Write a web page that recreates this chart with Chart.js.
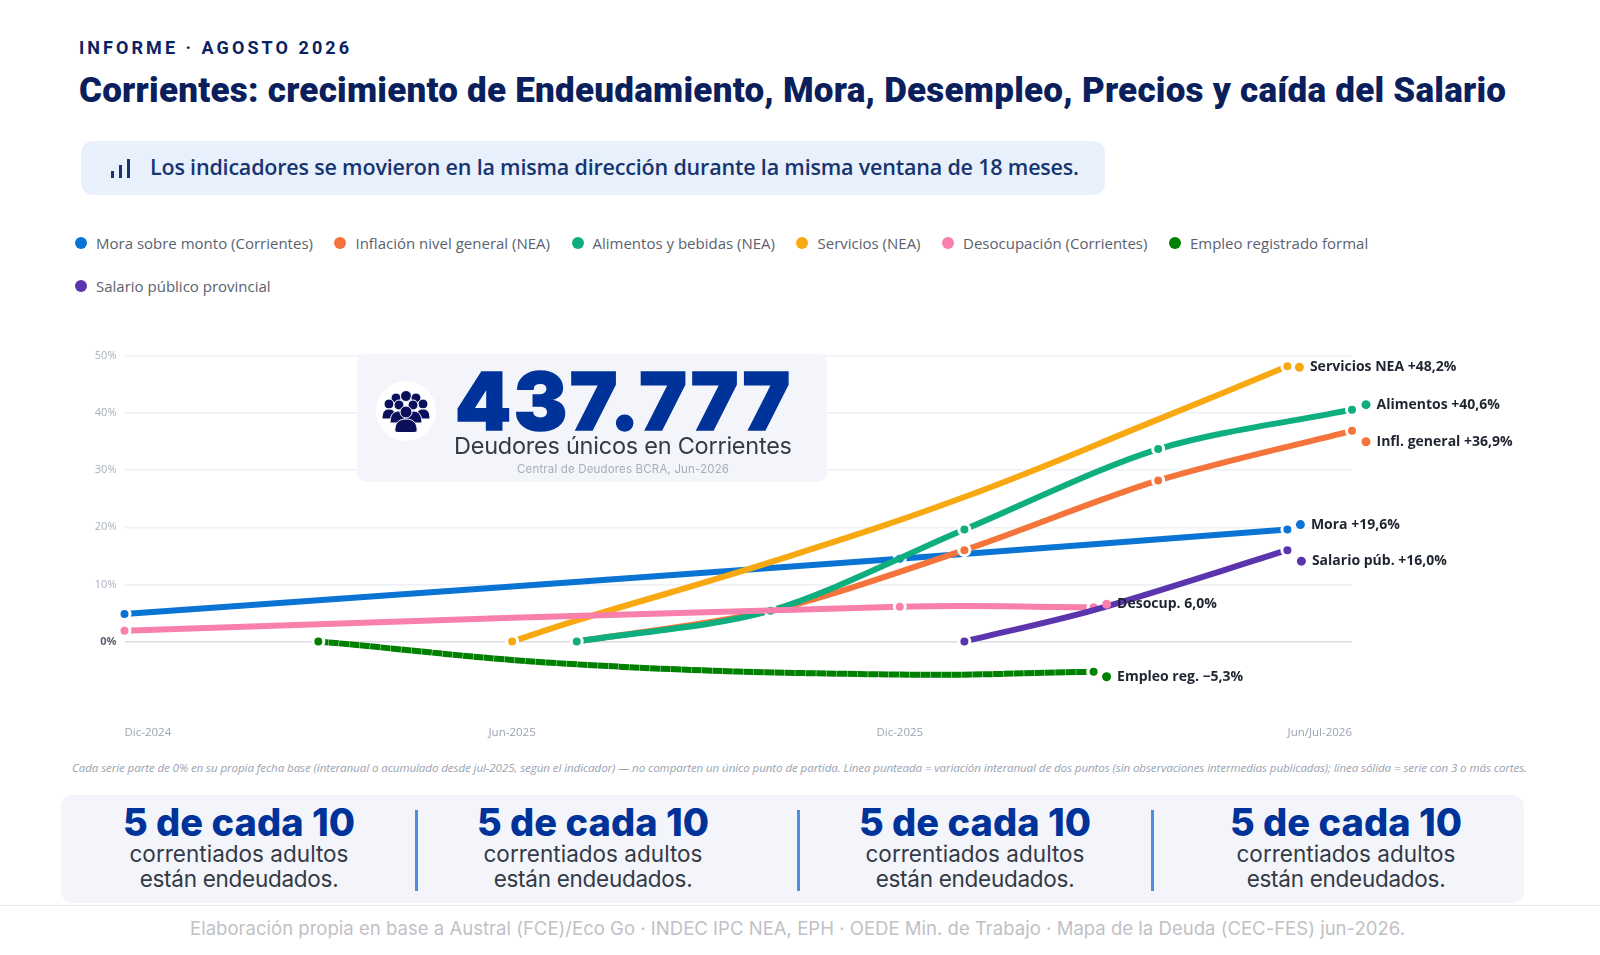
<!DOCTYPE html>
<html lang="es"><head><meta charset="utf-8">
<script src="https://cdn.jsdelivr.net/npm/chart.js@4"></script>
<style>
html,body{margin:0;padding:0;background:#fff;width:1600px;height:955px;overflow:hidden}
.t{position:absolute;white-space:nowrap;line-height:1}
#kicker{left:79px;top:37px;font:700 18px Roboto,sans-serif;color:#0b2263}
#title{left:79px;top:70px;font:900 35px Roboto,sans-serif;color:#0a1f5c}
#banner{position:absolute;left:81px;top:141px;width:1024px;height:54px;background:#e8f0fc;border-radius:12px}
#btxt{left:150px;top:151.5px;font:600 21.5px "Open Sans",sans-serif;color:#17356f}
#legend{position:absolute;left:75px;top:232px;width:1450px;display:flex;flex-wrap:wrap;column-gap:21.5px;row-gap:21px;font:15px/22px "Open Sans",sans-serif;color:#5a6270}
#legend div{display:flex;align-items:center;gap:9px}
#legend i{display:block;width:12px;height:12px;border-radius:50%}
#wrap{position:absolute;left:0;top:340px;width:1600px;height:407px}
#card{position:absolute;left:357px;top:354px;width:470px;height:128px;background:#f3f5fb;border-radius:9px}
#disc{position:absolute;left:376px;top:381px;width:60px;height:60px;border-radius:50%;background:#fff}
#num{left:455px;top:352px;font:900 80px Inter,sans-serif;color:#003399;-webkit-text-stroke:1.5px #003399}
#dlab{left:454px;top:431px;font:400 23.5px Inter,sans-serif;color:#333a46}
#dsrc{left:517px;top:462px;font:400 11.5px Inter,sans-serif;color:#a9adb6}
#note{left:72px;top:760px;font:italic 400 11.6px "Open Sans",sans-serif;color:#9aa3b2}
#strip{position:absolute;left:61px;top:795px;width:1463px;height:108px;background:#f3f5fb;border-radius:12px}
.h{font:800 38px Inter,sans-serif;color:#003399;top:799px;transform:translateX(-50%)}
.s{font:400 22.5px Inter,sans-serif;color:#333a46;transform:translateX(-50%)}
.d{position:absolute;top:810px;width:3px;height:81px;background:#4a90e2}
#rule{position:absolute;left:0;top:905px;width:1600px;height:1px;background:#e6e8ec}
#foot{left:190px;top:917px;font:400 18.5px Inter,sans-serif;color:#bfc1c6}
</style></head><body>
<div class="t" id="kicker" data-w="270">INFORME · AGOSTO 2026</div>
<div class="t" id="title" data-w="1427">Corrientes: crecimiento de Endeudamiento, Mora, Desempleo, Precios y caída del Salario</div>
<div id="banner"></div>
<svg style="position:absolute;left:110px;top:158px" width="22" height="22"><g fill="#17356f"><rect x="1" y="13" width="3" height="7"/><rect x="9" y="7" width="3" height="13"/><rect x="17" y="1" width="3" height="19"/></g></svg>
<div class="t" id="btxt" data-w="929">Los indicadores se movieron en la misma dirección durante la misma ventana de 18 meses.</div>
<div id="legend"></div>
<div id="wrap"><canvas id="c" width="1600" height="407"></canvas></div>
<div id="card"></div><div id="disc"></div>
<svg style="position:absolute;left:381px;top:390px" width="50" height="42" viewBox="0 0 50 42"><g fill="#0a0f5c" stroke="#fff" stroke-width="1">
<circle cx="15" cy="8" r="5"/><circle cx="25" cy="6" r="5.5"/><circle cx="35" cy="8" r="5"/>
<circle cx="8" cy="14" r="5"/><circle cx="42" cy="14" r="5"/>
<path d="M1 29c0-8 3-10 7-10s7 2 7 10z"/><path d="M35 29c0-8 3-10 7-10s7 2 7 10z"/>
<circle cx="18" cy="15" r="5"/><circle cx="32" cy="15" r="5"/>
<path d="M9 33c0-9 4-12 9-12s9 3 9 12z"/><path d="M23 33c0-9 4-12 9-12s9 3 9 12z"/>
<circle cx="25" cy="22" r="6"/><path d="M14 42c-1-9 4-13 11-13s12 4 11 13c-4 1-18 1-22 0z"/></g></svg>
<div class="t" id="num" data-w="335">437.777</div>
<div class="t" id="dlab" data-w="338">Deudores únicos en Corrientes</div>
<div class="t" id="dsrc" data-w="212">Central de Deudores BCRA, Jun-2026</div>
<div class="t" id="note" data-w="1455">Cada serie parte de 0% en su propia fecha base (interanual o acumulado desde jul-2025, según el indicador) — no comparten un único punto de partida. Línea punteada = variación interanual de dos puntos (sin observaciones intermedias publicadas); línea sólida = serie con 3 o más cortes.</div>
<div id="strip"></div>
<div class="d" style="left:415px"></div><div class="d" style="left:797px"></div><div class="d" style="left:1151px"></div>
<div id="stats"></div>
<div id="rule"></div>
<div class="t" id="foot" data-w="1215">Elaboración propia en base a Austral (FCE)/Eco Go · INDEC IPC NEA, EPH · OEDE Min. de Trabajo · Mapa de la Deuda (CEC-FES) jun-2026.</div>
<script>
// ---- data ----
const months = ["Dic-2024","Ene-2025","Feb-2025","Mar-2025","Abr-2025","May-2025","Jun-2025","Jul-2025","Ago-2025","Sep-2025","Oct-2025","Nov-2025","Dic-2025","Ene-2026","Feb-2026","Mar-2026","Abr-2026","May-2026","Jun-2026","Jul-2026"];
const xTickLabels = {0:"Dic-2024",6:"Jun-2025",12:"Dic-2025",19:"Jun/Jul-2026"};
const _ = null;
const mora      = [4.8,_,_,_,_,_,_,_,_,_,_,_,14.5,_,_,_,_,_,19.6,_];
const inflacion = [_,_,_,_,_,_,_,0,_,_,5.4,_,_,16.0,_,_,28.2,_,_,36.9];
const alimentos = [_,_,_,_,_,_,_,0,_,_,5.4,_,_,19.6,_,_,33.7,_,_,40.6];
const servicios = [_,_,_,_,_,_,0,3.7,_,_,13.9,_,_,25.3,_,_,38.9,_,48.2,_];
const desocup   = [1.9,_,_,_,_,_,_,_,_,_,_,_,6.1,_,_,6.0,_,_,_,_];
const empleo    = [_,_,_,0,_,_,_,-4.0,_,_,_,_,-5.8,_,_,-5.3,_,_,_,_];
const salario   = [_,_,_,_,_,_,_,_,_,_,_,_,_,0,_,5.5,_,_,16.0,_];
const seriesNames = ["Mora sobre monto (Corrientes)","Inflación nivel general (NEA)","Alimentos y bebidas (NEA)","Servicios (NEA)","Desocupación (Corrientes)","Empleo registrado formal","Salario público provincial"];
const seriesColors = ["#0a74d4","#f4743b","#0fae7f","#f8a912","#f97fac","#008000","#5a35ad"];
const endLabels = ["Mora +19,6%","Infl. general +36,9%","Alimentos +40,6%","Servicios NEA +48,2%","Desocup. 6,0%","Empleo reg. −5,3%","Salario púb. +16,0%"];
const endOffsets = [[13,-5],[14,11],[14,-5],[12,1],[13,-3],[13,5],[14,11]];
const yTicksUnit = "%";
const statHead = "5 de cada 10", statLine1 = "correntiados adultos", statLine2 = "están endeudados.";
const statCenters = [239,593,975,1346];

// ---- stats strip ----
document.getElementById('stats').innerHTML = statCenters.map(x=>
 `<div class="t h" data-w="232" style="left:${x}px">${statHead}</div><div class="t s" data-w="219" style="left:${x}px;top:839.5px">${statLine1}</div><div class="t s" data-w="199" style="left:${x}px;top:865px">${statLine2}</div>`).join('');

// ---- chart ----
const allSeries = [mora,inflacion,alimentos,servicios,desocup,empleo,salario];
const drawOrder = [7,5,4,6,2,3,1];
const seriesTension = [0.4,0.3,0.3,0.4,0.4,0.4,0.3];
const hiddenMarks = {3:[7,10,13,16],5:[7,12],6:[15]};
const datasets = allSeries.map((d,i)=>({
  label: seriesNames[i], data: d, borderColor: seriesColors[i], backgroundColor: seriesColors[i],
  borderWidth: 6, tension: seriesTension[i], spanGaps: true, order: drawOrder[i], clip:false,
  borderDash: i===5 ? [10,0.4] : [], borderCapStyle:'butt',
  pointBorderColor:'#fff', pointBorderWidth:3, pointBackgroundColor: seriesColors[i],
  pointRadius: c => (hiddenMarks[i]||[]).includes(c.dataIndex) ? 0 : 5.5
}));
const endLabelPlugin = { id:'endLabels', afterDatasetsDraw(chart){
  const g = chart.ctx; g.save();
  g.font = '700 14px "Open Sans",sans-serif'; g.textBaseline='middle'; g.textAlign='left';
  allSeries.forEach((d,i)=>{
    let last=-1; d.forEach((v,k)=>{ if(v!==null) last=k; });
    const p = chart.getDatasetMeta(i).data[last];
    const x = p.x+endOffsets[i][0], y = p.y+endOffsets[i][1];
    g.fillStyle = seriesColors[i]; g.beginPath(); g.arc(x,y,4.5,0,Math.PI*2); g.fill();
    g.fillStyle = '#1f2530'; g.fillText(endLabels[i], x+10.5, y);
  });
  g.restore();
}};
const tv = c => c.tick ? c.tick.value : 1;
const chart = new Chart(document.getElementById('c'),{
  type:'line', data:{labels:months,datasets}, plugins:[endLabelPlugin],
  options:{ responsive:false, animation:false, devicePixelRatio:1,
    layout:{padding:{top:16,right:248,left:0,bottom:0}},
    plugins:{legend:{display:false},tooltip:{enabled:false}},
    scales:{
      x:{ type:'category', offset:false, grid:{display:false}, border:{display:false},
          afterFit:s=>{s.height=48.4},
          ticks:{autoSkip:false,maxRotation:0,minRotation:0,align:'inner',padding:19,color:'#9aa3b2',
                 font:{family:'"Open Sans"',size:11.5},
                 callback:(v,i)=>xTickLabels[i]||''}},
      y:{ min:-10,max:50, border:{display:false},
          afterFit:s=>{s.width=124.5},
          grid:{drawTicks:false,lineWidth:1.5,color:c=>tv(c)<0?'rgba(0,0,0,0)':(tv(c)===0?'#d9dde6':'#eef0f4')},
          ticks:{stepSize:10,padding:8,
                 color:c=>tv(c)===0?'#5a6270':'#a8b0bc',
                 font:c=>({family:'"Open Sans"',size:11,weight:tv(c)===0?'700':'400'}),
                 callback:v=>v<0?'':v+yTicksUnit}}
    }}
});
// legend built from the chart's own legend items, in dataset order
document.getElementById('legend').innerHTML = Chart.defaults.plugins.legend.labels.generateLabels(chart)
  .sort((a,b)=>a.datasetIndex-b.datasetIndex)
  .map(l=>`<div><i style="background:${l.fillStyle}"></i><span>${l.text}</span></div>`).join('');
// fit text widths
document.querySelectorAll('[data-w]').forEach(e=>{
  const n=e.textContent.length-1, w=e.getBoundingClientRect().width, t=+e.dataset.w;
  e.style.letterSpacing=((t-w)/n)+'px';
});
</script>
</body></html>
